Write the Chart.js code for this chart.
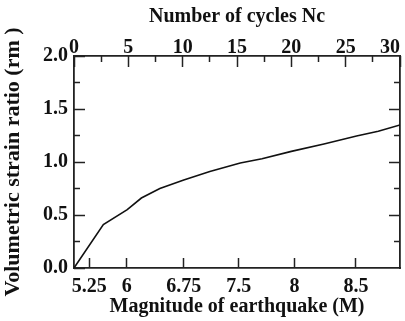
<!DOCTYPE html>
<html><head><meta charset="utf-8">
<script src="https://cdn.jsdelivr.net/npm/chart.js@4"></script>
<style>html,body{margin:0;padding:0;background:#fff}#wrap{width:405px;height:321px}</style>
</head><body><div id="wrap"><canvas id="c"></canvas></div>
<script>
// Curve: number of cycles (x) vs volumetric strain ratio (y)
const cycles = [0, 2.7, 4.9, 6.2, 7.9, 10.1, 12.5, 15.3, 17.3, 20, 23, 26, 28, 30];
const strainRatio = [0, 0.41, 0.55, 0.66, 0.75, 0.83, 0.91, 0.99, 1.03, 1.10, 1.17, 1.245, 1.29, 1.35];
// Bottom axis: magnitude labels placed at their equivalent number of cycles
const magnitudeLabels = ['5.25', '6', '6.75', '7.5', '8', '8.5'];
const magnitudeCycles = [1.4, 4.85, 10.1, 15.15, 20.3, 25.95];
// Top axis ticks (cycles) and minor ticks
const cycleTicks = [0, 5, 10, 15, 20, 25, 30];
const cycleMinorTicks = [2.5, 7.5, 12.5, 17.5, 22.5, 27.5];
// Y ticks
const yTicks = [0, 0.5, 1.0, 1.5, 2.0];
const yMinorTicks = [0.25, 0.75, 1.25, 1.75];

const FONT = 'Liberation Serif';
const AX = '#222';
const tickFont = {family: FONT, size: 20, weight: 'bold', lineHeight: 1.0};
const titleFont = {family: FONT, size: 20, weight: 'bold', lineHeight: 1.0};
const yTitleFont = {family: FONT, size: 22, weight: 'bold', lineHeight: 1.2};
const setTicks = arr => s => { s.ticks = arr.map(v => ({value: v})); };
const fixH = h => s => { s.paddingLeft = 0; s.paddingRight = 0; s.height = h; };

const alignPlugin = {
  id: 'alignEnds',
  beforeDraw(chart) {
    const items = chart.scales.xTop.getLabelItems(chart.chartArea);
    if (items.length) items[items.length - 1].options.textAlign = 'right';
  }
};

// tick-only axis drawn on the chart area edge
function tickAxis(axis, pos, values, len, border) {
  return {
    type: 'linear', axis: axis, position: pos,
    min: 0, max: axis === 'x' ? 30 : 2,
    afterBuildTicks: setTicks(values),
    ticks: {display: false},
    grid: {drawOnChartArea: false, tickLength: len, tickColor: AX, tickWidth: 1.5},
    border: border ? {color: AX, width: 1.8} : {display: false}
  };
}

new Chart(document.getElementById('c'), {
  type: 'line',
  data: {
    datasets: [{
      data: cycles.map((c, i) => ({x: c, y: strainRatio[i]})),
      borderColor: '#111', borderWidth: 1.6, pointRadius: 0, tension: 0, fill: false,
      xAxisID: 'x', yAxisID: 'y'
    }]
  },
  options: {
    responsive: true, maintainAspectRatio: false, animation: false,
    layout: {padding: {top: 0, right: 5, bottom: 0, left: 0}},
    plugins: {legend: {display: false}, tooltip: {enabled: false}},
    scales: {
      x: {
        type: 'linear', position: 'bottom', min: 0, max: 30,
        afterBuildTicks: setTicks(magnitudeCycles), afterFit: fixH(53),
        ticks: {autoSkip: false, maxRotation: 0, color: '#111', font: tickFont, padding: 9,
                callback: (v, i) => magnitudeLabels[i]},
        grid: {drawOnChartArea: false, drawTicks: false},
        border: {color: AX, width: 1.8},
        title: {display: true, text: 'Magnitude of earthquake (M)', color: '#111', font: titleFont, padding: {top: 4, bottom: 4}}
      },
      xTop: {
        type: 'linear', position: 'top', axis: 'x', min: 0, max: 30,
        afterBuildTicks: setTicks(cycleTicks), afterFit: fixH(56),
        ticks: {autoSkip: false, maxRotation: 0, color: '#111', font: tickFont, padding: -2},
        grid: {drawOnChartArea: false, drawTicks: false},
        border: {color: AX, width: 1.8},
        title: {display: true, text: 'Number of cycles Nc', color: '#111', font: titleFont, padding: {top: 7, bottom: 6}}
      },
      y: {
        type: 'linear', position: 'left', min: 0, max: 2,
        afterBuildTicks: setTicks(yTicks), afterFit: s => { s.width = 74; },
        ticks: {autoSkip: false, color: '#111', font: tickFont, padding: 6,
                callback: v => v.toFixed(1)},
        grid: {drawOnChartArea: false, drawTicks: false},
        border: {color: AX, width: 1.8},
        title: {display: true, text: 'Volumetric strain ratio (rm )', color: '#111', font: yTitleFont, padding: {top: 0, bottom: 0}}
      },
      xBotMajor: tickAxis('x', {y: 0}, magnitudeCycles, -10, false),
      xTopMajor: tickAxis('x', {y: 2}, cycleTicks, 11, false),
      xTopMinor: tickAxis('x', {y: 2}, cycleMinorTicks, 6, false),
      yLeftMajor: tickAxis('y', {x: 0}, yTicks, -11, false),
      yLeftMinor: tickAxis('y', {x: 0}, yMinorTicks, -6, false),
      yRight: tickAxis('y', {x: 30}, [0.5, 1.0, 1.5], 10, true),
      yRightMinor: tickAxis('y', {x: 30}, yMinorTicks, 6, false)
    }
  },
  plugins: [alignPlugin]
});
</script></body></html>
